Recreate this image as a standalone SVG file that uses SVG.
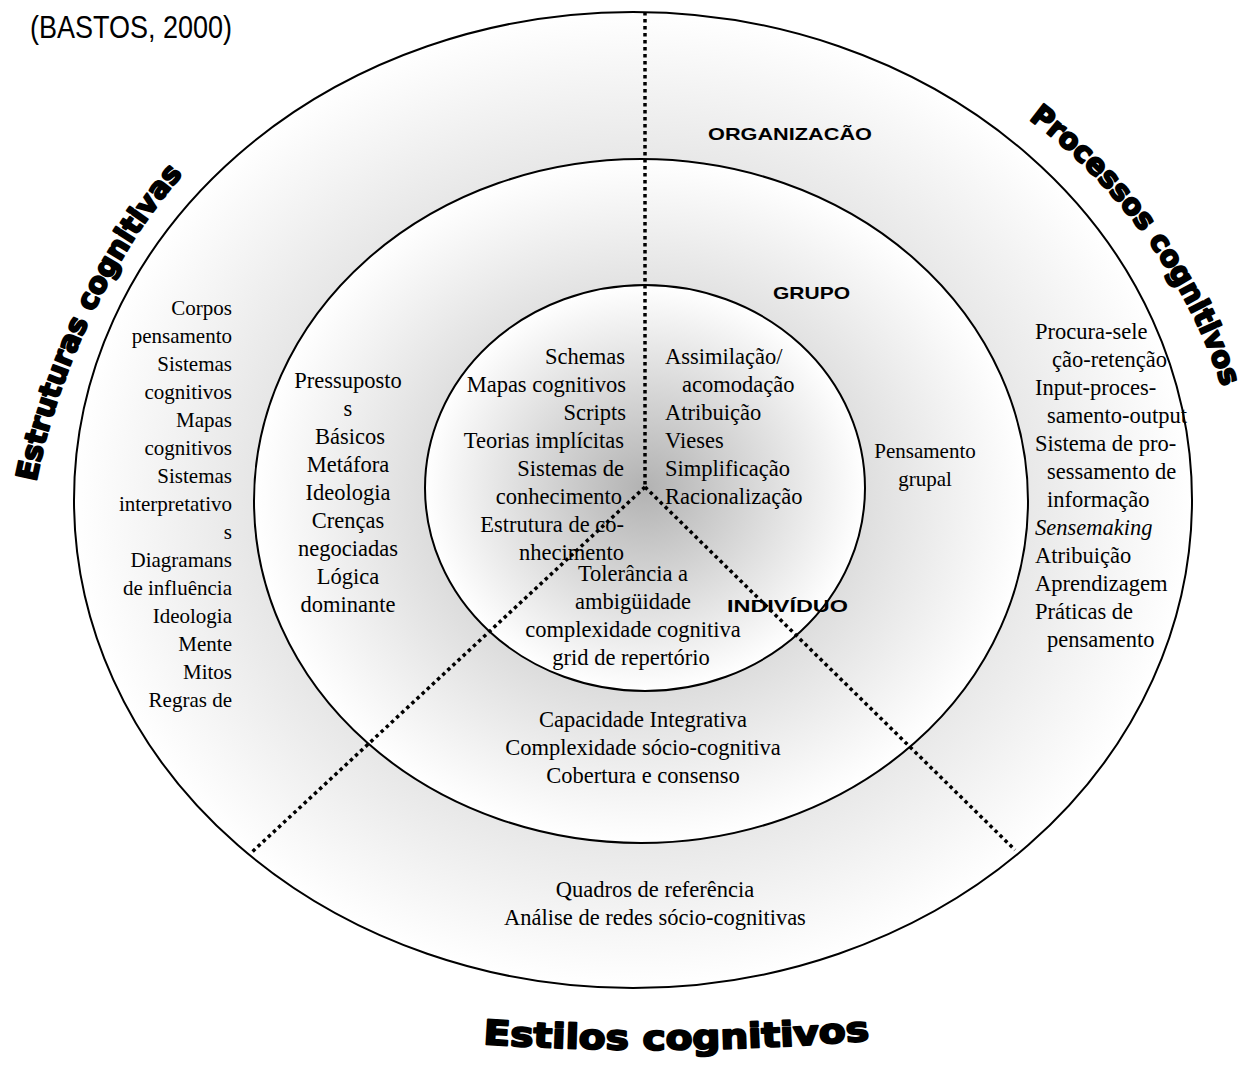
<svg xmlns="http://www.w3.org/2000/svg" xmlns:xlink="http://www.w3.org/1999/xlink" width="1249" height="1065" viewBox="0 0 1249 1065">
<style>
.ring { stroke:#000; stroke-width:2; fill:url(#shade); }
.t { font-family:"Liberation Serif","Times New Roman",serif; font-size:22.5px; fill:#000; }
.s21 { font-size:21px; }
.r { text-anchor:end; }
.m { text-anchor:middle; }
.b { font-family:"Liberation Sans",Arial,sans-serif; font-weight:bold; font-size:17px; fill:#000; }
.w { font-family:"DejaVu Sans",sans-serif; font-weight:bold; fill:#000; stroke:#000; stroke-width:2; stroke-linejoin:round; }
.dot { fill:none; stroke:#000; stroke-width:3.5; stroke-dasharray:3.5 3.5; }
</style>
<defs>
<radialGradient id="shade" cx="50%" cy="50%" r="50%">
<stop offset="0" stop-color="#b2b2b2"/>
<stop offset="1" stop-color="#ffffff"/>
</radialGradient>
<path id="arcL" d="M 36 482 C 56 380, 108 255, 193 163"/>
<path id="arcR" d="M 1000 99 A 550 550 0 0 1 1232 420"/>
<path id="arcB" d="M 483 1044 Q 680 1057 872 1040"/>
</defs>
<rect width="1249" height="1065" fill="#fff"/>

<g id="organizacao">
<ellipse class="ring" cx="633" cy="500" rx="559" ry="488"/>
<text class="b" x="708" y="140" textLength="164" lengthAdjust="spacingAndGlyphs">ORGANIZACÃO</text>
<text class="t s21 r" x="232"><tspan x="232" y="315">Corpos</tspan><tspan x="232" y="343">pensamento</tspan><tspan x="232" y="371">Sistemas</tspan><tspan x="232" y="399">cognitivos</tspan><tspan x="232" y="427">Mapas</tspan><tspan x="232" y="455">cognitivos</tspan><tspan x="232" y="483">Sistemas</tspan><tspan x="232" y="511">interpretativo</tspan><tspan x="232" y="539">s</tspan><tspan x="232" y="567">Diagramans</tspan><tspan x="232" y="595">de influência</tspan><tspan x="232" y="623">Ideologia</tspan><tspan x="232" y="651">Mente</tspan><tspan x="232" y="679">Mitos</tspan><tspan x="232" y="707">Regras de</tspan></text>
<text class="t"><tspan x="1035" y="339">Procura-sele</tspan><tspan x="1052" y="367">ção-retenção</tspan><tspan x="1035" y="395">Input-proces-</tspan><tspan x="1047" y="423">samento-output</tspan><tspan x="1035" y="451">Sistema de pro-</tspan><tspan x="1047" y="479">sessamento de</tspan><tspan x="1047" y="507">informação</tspan><tspan x="1035" y="535" font-style="italic">Sensemaking</tspan><tspan x="1035" y="563">Atribuição</tspan><tspan x="1035" y="591">Aprendizagem</tspan><tspan x="1035" y="619">Práticas de</tspan><tspan x="1047" y="647">pensamento</tspan></text>
<text class="t m"><tspan x="655" y="897">Quadros de referência</tspan><tspan x="655" y="925">Análise de redes sócio-cognitivas</tspan></text>
</g>

<g id="grupo">
<ellipse class="ring" cx="641" cy="501" rx="387" ry="342"/>
<text class="b" x="773" y="299" textLength="77" lengthAdjust="spacingAndGlyphs">GRUPO</text>
<text class="t m"><tspan x="348" y="388">Pressuposto</tspan><tspan x="348" y="416">s</tspan><tspan x="350" y="444">Básicos</tspan><tspan x="348" y="472">Metáfora</tspan><tspan x="348" y="500">Ideologia</tspan><tspan x="348" y="528">Crenças</tspan><tspan x="348" y="556">negociadas</tspan><tspan x="348" y="584">Lógica</tspan><tspan x="348" y="612">dominante</tspan></text>
<text class="t s21 m"><tspan x="925" y="458">Pensamento</tspan><tspan x="925" y="486">grupal</tspan></text>
<text class="t m"><tspan x="643" y="727">Capacidade Integrativa</tspan><tspan x="643" y="755">Complexidade sócio-cognitiva</tspan><tspan x="643" y="783">Cobertura e consenso</tspan></text>
</g>

<g id="individuo">
<ellipse class="ring" cx="645" cy="488" rx="220" ry="203"/>
<text class="t r"><tspan x="625" y="364">Schemas</tspan><tspan x="626" y="392">Mapas cognitivos</tspan><tspan x="626" y="420">Scripts</tspan><tspan x="624" y="448">Teorias implícitas</tspan><tspan x="624" y="476">Sistemas  de</tspan><tspan x="622" y="504">conhecimento</tspan><tspan x="624" y="532">Estrutura de co-</tspan><tspan x="624" y="560">nhecimento</tspan></text>
<text class="t"><tspan x="665" y="364">Assimilação/</tspan><tspan x="682" y="392">acomodação</tspan><tspan x="665" y="420">Atribuição</tspan><tspan x="665" y="448">Vieses</tspan><tspan x="665" y="476">Simplificação</tspan><tspan x="665" y="504">Racionalização</tspan></text>
<text class="t m"><tspan x="633" y="581">Tolerância a</tspan><tspan x="633" y="609">ambigüidade</tspan><tspan x="633" y="637">complexidade cognitiva</tspan><tspan x="631" y="665">grid de repertório</tspan></text>
<text class="b" x="727" y="612" font-size="18" textLength="121" lengthAdjust="spacingAndGlyphs">INDIVÍDUO</text>
</g>

<g id="titles">
<text x="30" y="38" style="font-family:'Liberation Sans',Arial,sans-serif;font-size:32px" textLength="202" lengthAdjust="spacingAndGlyphs">(BASTOS, 2000)</text>
<text class="w" font-size="29"><textPath xlink:href="#arcL" href="#arcL" textLength="345" lengthAdjust="spacingAndGlyphs">Estruturas cognitivas</textPath></text>
<text class="w" font-size="29"><textPath xlink:href="#arcR" href="#arcR" startOffset="35" textLength="336" lengthAdjust="spacingAndGlyphs">Processos cognitivos</textPath></text>
<text class="w" font-size="34"><textPath xlink:href="#arcB" href="#arcB" textLength="387" lengthAdjust="spacingAndGlyphs">Estilos cognitivos</textPath></text>
</g>

<g id="connectors">
<line class="dot" x1="645" y1="12" x2="645" y2="487"/>
<line class="dot" x1="645" y1="487" x2="252" y2="852"/>
<line class="dot" x1="645" y1="487" x2="1015" y2="850"/>
</g>
</svg>
